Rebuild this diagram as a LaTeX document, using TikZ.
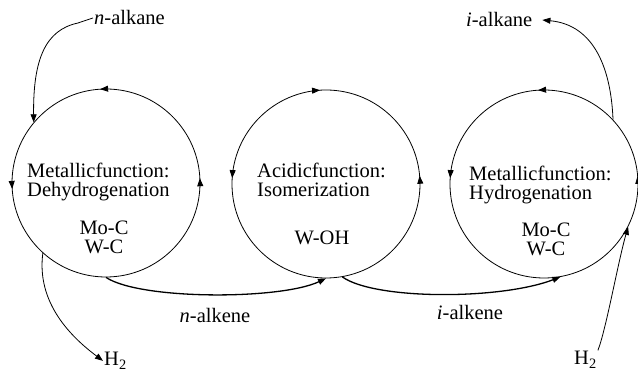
\documentclass[tikz,border=0pt]{standalone}
\usepackage{fontspec}
\setmainfont{Liberation Serif}
\usetikzlibrary{arrows.meta, positioning, decorations.markings, calc}

\begin{document}
\begin{tikzpicture}[
            x=1pt, y=-1pt,
            >={Triangle[length=8pt,width=6pt]},
            font=\fontsize{20.5}{19}\selectfont,
            func/.style={
				circle,
				draw=black,
				line width=0.8pt,
				minimum size=188pt,
				inner sep=0pt,
				postaction={decorate}
			},
            fntext/.style={
				align=left,
				inner sep=0pt,
				anchor=base west
			},
            cattext/.style={
				align=center,
				inner sep=0pt,
				anchor=base
			},
            label/.style={
				inner sep=1pt
			},
            arrow/.style={
				line width=0.8pt,
				->
			},
            heavy/.style={
				line width=1.3pt,
				->
			}
        ]

        \useasboundingbox (0,0) rectangle (638,371);

        % the three catalytic functions
        \node (dehyd) [func, decoration={markings,
            mark=at position 0.008 with {\arrow{>}},
            mark=at position 0.26 with {\arrow{>}},
            mark=at position 0.51 with {\arrow{>}}}] at (106,183) {};
        \node (isom) [func, decoration={markings,
            mark=at position 0.014 with {\arrow{>}},
            mark=at position 0.26 with {\arrowreversed{>}},
            mark=at position 0.49 with {\arrow{>}}}] at (326,184) {};
        \node (hydro) [func, decoration={markings,
            mark=at position 0.014 with {\arrow{>}},
            mark=at position 0.26 with {\arrow{>}},
            mark=at position 0.49 with {\arrow{>}}}] at (544,184) {};

        % base anchor sits on the last line
        \node (dehydText) [fntext] at (27,197) {Metallicfunction:\\Dehydrogenation};
        \node (dehydCat) [cattext] at (104,254) {Mo-C\\W-C};
        \node (isomText) [fntext] at (257,197) {Acidicfunction:\\Isomerization};
        \node (isomCat) [cattext] at (322,245) {W-OH};
        \node (hydroText) [fntext] at (469,200) {Metallicfunction:\\Hydrogenation};
        \node (hydroCat) [cattext] at (546,256) {Mo-C\\W-C};

        % species
        \node (nalkane) [label, anchor=base west] at (93,25) {\textit{n}-alkane};
        \node (ialkane) [label, anchor=base west] at (465,27) {\textit{i}-alkane};
        \node (nalkene) [label, anchor=base] at (215,323) {\textit{n}-alkene};
        \node (ialkene) [label, anchor=base] at (470,320) {\textit{i}-alkene};
        \node (htwoA) [label, anchor=base west] at (103,366) {H\textsubscript{2}};
        \node (htwoB) [label, anchor=base west] at (573,365) {H\textsubscript{2}};

        \draw [arrow] (nalkane.west) -- (78,23) .. controls (45,30) and (33,60) .. (dehyd.140);
        \draw [arrow] (dehyd.228) .. controls (38,290) and (55,325) .. (htwoA.west);
        \draw [heavy] (dehyd.south) .. controls (140,300) and (280,300) .. (isom.south);
        \draw [heavy] (isom.-80) .. controls (375,300) and (500,300) .. (hydro.-80);
        \draw [arrow] (hydro.43) .. controls (611,70) and (595,25) .. ([xshift=9pt]ialkane.east);
        \draw [arrow] (htwoB.north east) .. controls (606,330) and (618,262) .. (hydro.-27);

        \end{tikzpicture}
\end{document}
